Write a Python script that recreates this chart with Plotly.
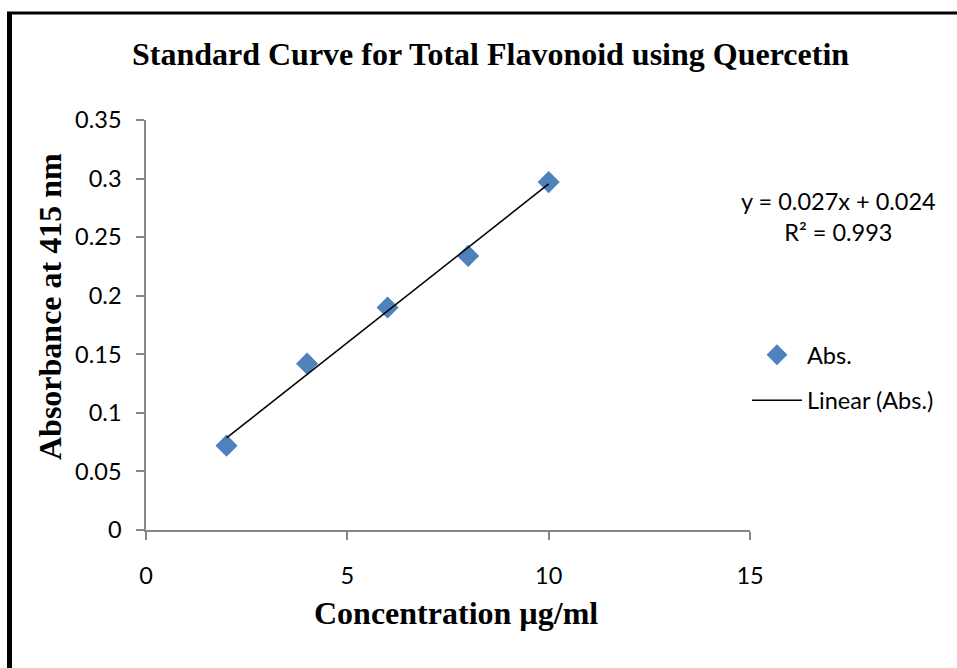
import numpy as np
import plotly.graph_objects as go

concentration = [2, 4, 6, 8, 10]
absorbance = [0.072, 0.142, 0.190, 0.234, 0.297]
x_ticks = [0, 5, 10, 15]
y_ticks = [0, 0.05, 0.1, 0.15, 0.2, 0.25, 0.3, 0.35]
y_tick_labels = ["0", "0.05", "0.1", "0.15", "0.2", "0.25", "0.3", "0.35"]

slope, intercept = np.polyfit(concentration, absorbance, 1)
fit_x = [concentration[0], concentration[-1]]
fit_y = [slope * v + intercept for v in fit_x]

W, H = 957, 668
L, R, T, B = 146, 750, 120, 530

def px(xp):
    return (xp - L) / (R - L)

def py(yp):
    return (B - yp) / (B - T)

tick_font = dict(family="Lato", size=23.5, color="black")
serif_bold = "Liberation Serif"
title_font = dict(family=serif_bold, size=32, color="black")

fig = go.Figure()
fig.add_trace(go.Scatter(
    x=concentration, y=absorbance, mode="markers", name="Abs.",
    legendgroup="a",
    marker=dict(symbol="diamond", size=17, color="#4F81BD",
                line=dict(width=0)),
))
fig.add_trace(go.Scatter(
    x=fit_x, y=fit_y, mode="lines", name="Linear (Abs.)",
    legendgroup="b",
    line=dict(color="black", width=1.5),
))

fig.update_layout(
    width=W, height=H,
    margin=dict(l=L, r=W - R, t=T, b=H - B),
    paper_bgcolor="white", plot_bgcolor="white",
    title=dict(text="<b>Standard Curve for Total Flavonoid using Quercetin</b>",
               x=(133 + 848) / 2 / W, xanchor="center",
               y=1 - 54 / H, yanchor="middle",
               font=title_font),
    xaxis=dict(range=[0, 15], tickvals=x_ticks, ticktext=[str(v) for v in x_ticks],
               showgrid=False, zeroline=False, showline=True,
               linecolor="#868686", linewidth=1.5,
               ticks="outside", ticklen=8, tickcolor="#868686", tickwidth=1.5,
               ticklabelstandoff=16,
               tickfont=tick_font, fixedrange=True),
    yaxis=dict(range=[0, 0.35], tickvals=y_ticks, ticktext=y_tick_labels,
               showgrid=False, zeroline=False, showline=True,
               linecolor="#868686", linewidth=1.5,
               ticks="outside", ticklen=8, tickcolor="#868686", tickwidth=1.5,
               ticklabelstandoff=10,
               tickfont=tick_font, fixedrange=True),
    legend=dict(x=px(747), y=py(333), xanchor="left", yanchor="top",
                font=dict(family="Lato", size=23.5, color="black"),
                bgcolor="rgba(0,0,0,0)", tracegroupgap=12, itemwidth=50),
    showlegend=True,
)

fig.add_annotation(
    xref="paper", yref="paper", x=px(456), y=py(613),
    text="<b>Concentration µg/ml</b>", showarrow=False,
    xanchor="center", yanchor="middle", font=title_font,
)
fig.add_annotation(
    xref="paper", yref="paper", x=px(50), y=py(307),
    text="<b>Absorbance at 415 nm</b>", showarrow=False, textangle=-90,
    xanchor="center", yanchor="middle", font=title_font,
)

fig.add_annotation(
    xref="paper", yref="paper", x=px(838), y=py(216),
    text="y = 0.027x + 0.024<br>R² = 0.993", showarrow=False,
    align="center", xanchor="center", yanchor="middle",
    font=dict(family="Lato", size=23.5, color="black"),
)

# outer frame (left and top visible)
fig.add_shape(type="line", xref="paper", yref="paper",
              x0=px(9.5), x1=px(9.5), y0=py(12), y1=py(700),
              line=dict(color="black", width=5))
fig.add_shape(type="line", xref="paper", yref="paper",
              x0=px(7), x1=px(970), y0=py(13), y1=py(13),
              line=dict(color="black", width=3))

fig.write_html("out.html", config={"displayModeBar": False},
               post_script="document.body.style.margin='0px';")
